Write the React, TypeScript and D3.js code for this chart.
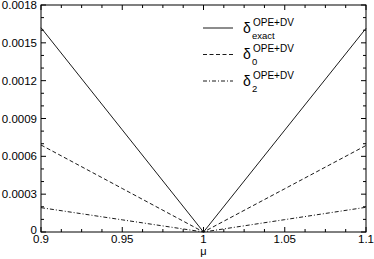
import * as d3 from "d3";

const muValues = [0.9, 0.95, 1, 1.05, 1.1];
const deltaExact = [0.00162, 0.00081, 0, 0.000808, 0.001615];
const deltaZero = [0.00069, 0.000345, 0, 0.000343, 0.000686];
const deltaTwo = [0.000193, 0.0000965, 0, 0.000098, 0.000196];

const xTicks = [0.9, 0.95, 1, 1.05, 1.1];
const xTickLabels = ["0.9", "0.95", "1", "1.05", "1.1"];
const yTicks = [0, 0.0003, 0.0006, 0.0009, 0.0012, 0.0015, 0.0018];
const yTickLabels = ["0", "0.0003", "0.0006", "0.0009", "0.0012", "0.0015", "0.0018"];

const seriesSubs = ["exact", "0", "2"];
const seriesDash = ["", "4,2.5", "4,2,1,2"];

const W = 374;
const H = 259;
const margin = { top: 5, right: 8, bottom: 27, left: 41 };
const font = "'Liberation Sans', Arial, Helvetica, sans-serif";

export default function App() {
  const x = d3.scaleLinear().domain([0.9, 1.1]).range([margin.left, W - margin.right]);
  const y = d3.scaleLinear().domain([0, 0.0018]).range([H - margin.bottom, margin.top]);
  const x0 = margin.left;
  const x1 = W - margin.right;
  const y0 = H - margin.bottom;
  const y1 = margin.top;

  const line = d3
    .line<number>()
    .x((_, i) => x(muValues[i]))
    .y((d) => y(d));

  // minor ticks: 3 between x majors, 2 between y majors
  const xMinor = d3.range(0, 17).map((i) => 0.9 + i * 0.0125).filter((_, i) => i % 4 !== 0);
  const yMinor = d3.range(0, 19).map((i) => i * 0.0001).filter((_, i) => i % 3 !== 0);

  const series = [deltaExact, deltaZero, deltaTwo];
  const stroke = "#1a1a1a";

  return (
    <svg width={W} height={H} style={{ position: "absolute", left: 0, top: 0, background: "#fff" }} fontFamily={font}>
      <g stroke="#000" strokeWidth={1}>
        {xTicks.map((t) => (
          <g key={"xt" + t}>
            <line x1={x(t)} x2={x(t)} y1={y0} y2={y0 - 5} />
            <line x1={x(t)} x2={x(t)} y1={y1} y2={y1 + 5} />
          </g>
        ))}
        {xMinor.map((t) => (
          <g key={"xm" + t}>
            <line x1={x(t)} x2={x(t)} y1={y0} y2={y0 - 3} />
            <line x1={x(t)} x2={x(t)} y1={y1} y2={y1 + 3} />
          </g>
        ))}
        {yTicks.map((t) => (
          <g key={"yt" + t}>
            <line x1={x0} x2={x0 + 5} y1={y(t)} y2={y(t)} />
            <line x1={x1} x2={x1 - 5} y1={y(t)} y2={y(t)} />
          </g>
        ))}
        {yMinor.map((t) => (
          <g key={"ym" + t}>
            <line x1={x0} x2={x0 + 3} y1={y(t)} y2={y(t)} />
            <line x1={x1} x2={x1 - 3} y1={y(t)} y2={y(t)} />
          </g>
        ))}
      </g>

      {series.map((s, i) => (
        <path key={i} d={line(s) ?? ""} fill="none" stroke={stroke} strokeWidth={1} strokeDasharray={seriesDash[i] || undefined} />
      ))}

      <rect x={x0} y={y1} width={x1 - x0} height={y0 - y1} fill="none" stroke="#000" strokeWidth={1} />

      {xTicks.map((t, i) => (
        <text key={"xl" + t} x={x(t)} y={y0 + 11} fontSize={11.5} textAnchor="middle">
          {xTickLabels[i]}
        </text>
      ))}
      {yTicks.map((t, i) => (
        <text key={"yl" + t} x={x0 - 4} y={y(t) + (i === 0 ? 2 : 4)} fontSize={11.5} textAnchor="end">
          {yTickLabels[i]}
        </text>
      ))}
      <text x={x(1)} y={255} fontSize={11} textAnchor="middle">μ</text>

      {seriesSubs.map((sub, i) => {
        const ly = 28 + i * 26.5;
        return (
          <g key={"lg" + i}>
            <line x1={203} x2={233} y1={ly} y2={ly} stroke={stroke} strokeWidth={1} strokeDasharray={seriesDash[i] || undefined} />
            <text x={243} y={ly + 4.5} fontSize={14}>δ</text>
            <text x={253} y={ly - 2.5} fontSize={10}>OPE+DV</text>
            <text x={252} y={ly + 10.5} fontSize={9.5}>{sub}</text>
          </g>
        );
      })}
    </svg>
  );
}
